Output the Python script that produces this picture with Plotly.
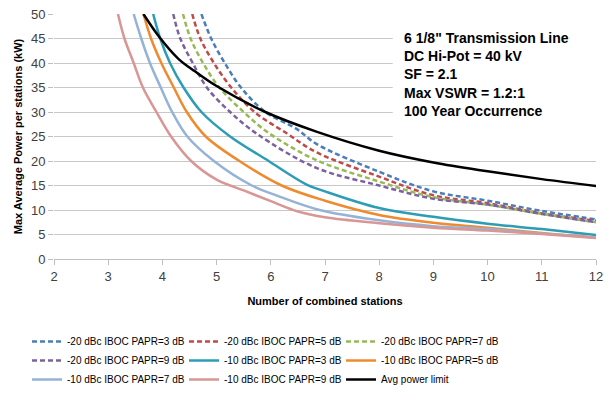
import plotly.graph_objects as go

# ---- data ----
names = [
    "-20 dBc IBOC PAPR=3 dB", "-20 dBc IBOC PAPR=5 dB", "-20 dBc IBOC PAPR=7 dB",
    "-20 dBc IBOC PAPR=9 dB", "-10 dBc IBOC PAPR=3 dB", "-10 dBc IBOC PAPR=5 dB",
    "-10 dBc IBOC PAPR=7 dB", "-10 dBc IBOC PAPR=9 dB", "Avg power limit",
]

x_20_3 = [4.72, 4.90, 5.15, 5.45, 5.90, 6.47, 6.84, 8, 9, 10, 11, 12]
y_20_3 = [50, 45, 40, 35, 30, 26.6, 23.5, 17.8, 13.8, 11.9, 9.8, 8.1]

x_20_5 = [4.55, 4.70, 4.95, 5.27, 5.70, 6.30, 6.84, 8, 9, 10, 11, 12]
y_20_5 = [50, 45, 40, 35, 30, 25.6, 21.8, 16.8, 13.0, 11.4, 9.3, 7.8]

x_20_7 = [4.38, 4.52, 4.75, 5.05, 5.50, 5.95, 6.84, 8, 9, 10, 11, 12]
y_20_7 = [50, 45, 40, 35, 30, 25.8, 20.2, 15.8, 12.6, 11.1, 9.2, 7.5]

x_20_9 = [4.20, 4.33, 4.56, 4.82, 5.25, 5.75, 6.84, 8, 9, 10, 11, 12]
y_20_9 = [50, 45, 40, 35, 30, 25.5, 18.6, 15.0, 12.3, 11.1, 9.2, 7.5]

x_10_3 = [3.83, 3.96, 4.14, 4.39, 4.72, 5.25, 5.96, 6.66, 7, 8, 9, 10, 11, 12]
y_10_3 = [50, 45, 40, 35, 30, 25, 20, 15.2, 13.8, 10.4, 8.6, 7.2, 6.1, 4.9]

x_10_5 = [3.65, 3.79, 3.98, 4.21, 4.45, 4.80, 5.42, 6.20, 7, 8, 9, 10, 11, 12]
y_10_5 = [50, 45, 40, 35, 30, 25, 20, 15, 11.9, 9.0, 7.4, 6.4, 5.3, 4.4]

x_10_7 = [3.47, 3.61, 3.77, 3.97, 4.18, 4.46, 4.95, 5.65, 6.10, 6.9, 8, 9, 10, 11, 12]
y_10_7 = [50, 45, 40, 35, 30, 25, 20, 15, 13.0, 10, 7.9, 6.7, 6.1, 5.2, 4.4]

x_10_9 = [3.18, 3.30, 3.47, 3.64, 3.89, 4.16, 4.53, 5.0, 5.5, 6.0, 6.5, 7, 8, 9, 10, 11, 12]
y_10_9 = [50, 45, 40, 35, 30, 25, 20, 16.2, 14.0, 11.8, 9.7, 8.5, 7.3, 6.4, 5.8, 5.1, 4.3]

x_limit = [3.65, 3.95, 4.30, 4.60, 5.0, 5.9, 6.84, 8, 9, 10, 11, 12]
y_limit = [50, 45.2, 40.8, 38.3, 35.3, 30, 26.0, 22.1, 19.7, 17.9, 16.3, 14.9]

xs = [x_20_3, x_20_5, x_20_7, x_20_9, x_10_3, x_10_5, x_10_7, x_10_9, x_limit]
ys = [y_20_3, y_20_5, y_20_7, y_20_9, y_10_3, y_10_5, y_10_7, y_10_9, y_limit]

colors = ["#4a7ebb", "#be4b48", "#98b954", "#7d60a0", "#2c9db5",
          "#ef8a2e", "#95b3d7", "#d99694", "#000000"]
dashes = ["5px,3px"] * 4 + ["solid"] * 5

note_lines = ["6 1/8\" Transmission Line", "DC Hi-Pot = 40 kV", "SF = 2.1",
              "Max VSWR = 1.2:1", "100 Year Occurrence"]

x_ticks = list(range(2, 13))
y_ticks = list(range(0, 51, 5))

FONT = "Liberation Sans, Arial, sans-serif"

fig = go.Figure()
for n, x, y, c, d in zip(names, xs, ys, colors, dashes):
    fig.add_trace(go.Scatter(
        x=x, y=y, name=n, mode="lines",
        line=dict(color=c, width=2.5, dash=d, shape="spline", smoothing=1.0),
    ))

# white box behind the note (hides gridlines)
fig.add_shape(type="rect", xref="x", yref="y", x0=8.25, x1=12, y0=21.5, y1=47.6,
              fillcolor="white", line=dict(width=0), layer="between")

fig.add_annotation(
    xref="paper", yref="paper", x=(406 - 54) / 549, y=1 - (24 - 10) / 249,
    xanchor="left", yanchor="top", align="left", showarrow=False,
    text="<br>".join("<b>%s</b>" % t for t in note_lines),
    font=dict(family=FONT, size=14, color="#000000"),
)

fig.update_layout(
    width=610, height=398,
    margin=dict(l=54, r=7, t=10, b=139),
    paper_bgcolor="white", plot_bgcolor="white",
    font=dict(family=FONT, size=12, color="#404040"),
    showlegend=True,
    legend=dict(
        orientation="h", xref="container", yref="container",
        x=27 / 610, y=1 - 327 / 398, xanchor="left", yanchor="top",
        entrywidth=112, entrywidthmode="pixels",
        font=dict(family=FONT, size=10, color="#000000"),
        itemwidth=30, tracegroupgap=0,
    ),
    xaxis=dict(
        range=[2, 12], tickmode="array", tickvals=x_ticks,
        showgrid=False, showline=True, linecolor="#bfbfbf", linewidth=1,
        ticks="outside", ticklen=5, tickcolor="#bfbfbf",
        tickfont=dict(size=13, color="#404040"), ticklabeloverflow="allow",
        title=dict(text="<b>Number of combined stations</b>",
                   font=dict(size=11, color="#000000"), standoff=14),
        zeroline=False,
    ),
    yaxis=dict(
        range=[0, 50], tickmode="array", tickvals=y_ticks,
        showgrid=True, gridcolor="#c8c8c8", gridwidth=1,
        showline=False, ticks="outside", ticklen=5, tickcolor="#bfbfbf",
        tickfont=dict(size=13, color="#404040"),
        title=dict(text="<b>Max Average Power per stations (kW)</b>",
                   font=dict(size=11, color="#000000"), standoff=6),
        zeroline=False,
    ),
)

fig.write_html("out.html")
